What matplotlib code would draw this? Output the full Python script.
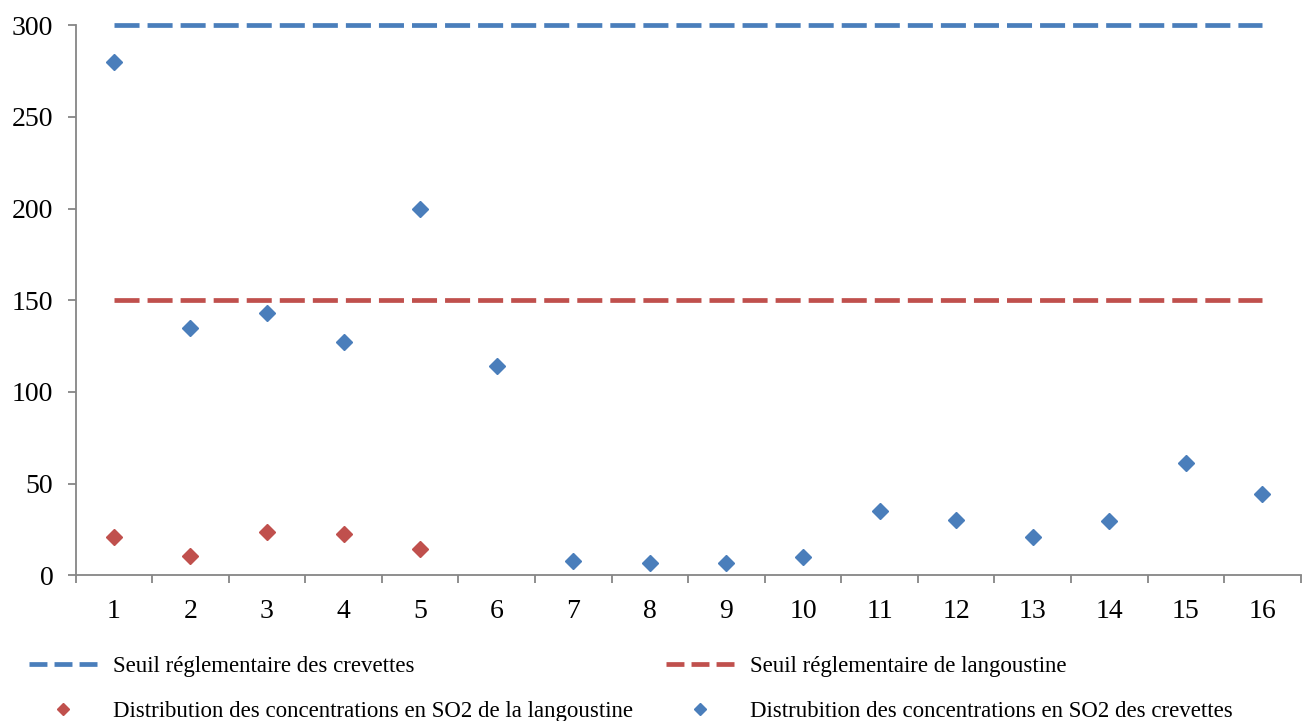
import numpy as np
import matplotlib
matplotlib.use("Agg")
import matplotlib.pyplot as plt
from matplotlib.lines import Line2D

plt.rcParams["font.family"] = ["Liberation Serif", "DejaVu Serif"]

# Data
echantillons = np.arange(1, 17)
crevettes_so2 = [280, 135, 143, 127, 200, 114, 8, 6.5, 6.5, 10, 35, 30, 21, 29.5, 61, 44.5]
langoustine_so2 = [21, 10.5, 23.5, 22.5, 14.5]
seuil_crevettes = 300
seuil_langoustine = 150

blue = "#4A7EBB"
red = "#C0504D"
grey = "#868686"

fig = plt.figure(figsize=(13.02, 7.21), dpi=100)
ax = fig.add_axes([0.058, 0.202, 0.941, 0.763])

ax.plot(echantillons, [seuil_crevettes] * len(echantillons), color=blue,
        lw=3.4, linestyle=(0, (5.3, 1.7)), clip_on=False)
ax.plot(echantillons, [seuil_langoustine] * len(echantillons), color=red,
        lw=3.4, linestyle=(0, (5.3, 1.7)))
ax.plot(echantillons[:len(langoustine_so2)], langoustine_so2, "D", color=red, ms=8.5,
        mec=red, clip_on=False)
ax.plot(echantillons, crevettes_so2, "D", color=blue, ms=8.5, mec=blue, clip_on=False)

ax.set_xlim(0.5, 16.5)
ax.set_ylim(0, 300)
ax.set_yticks(np.arange(0, 301, 50))
ax.set_xticks(echantillons)
ax.set_xticks(np.arange(0.5, 17, 1), minor=True)
ax.tick_params(axis="x", which="major", length=0, pad=17, labelsize=20)
ax.tick_params(axis="x", which="minor", length=6, width=1.3, color=grey, direction="out")
ax.tick_params(axis="y", length=6, width=1.3, color=grey, labelsize=20, pad=10)

for s in ["top", "right"]:
    ax.spines[s].set_visible(False)
for s in ["left", "bottom"]:
    ax.spines[s].set_color(grey)
    ax.spines[s].set_linewidth(1.3)

# legend handles
h1 = Line2D([], [], color=blue, lw=3.4, linestyle=(0, (3.8, 1.5)))
h2 = Line2D([], [], color=red, lw=3.4, linestyle=(0, (3.8, 1.5)))
h3 = Line2D([], [], color=red, marker="D", linestyle="none", ms=6.2)
h4 = Line2D([], [], color=blue, marker="D", linestyle="none", ms=6.2)
labels = ["Seuil réglementaire des crevettes",
          "Distribution des concentrations en SO2 de la langoustine",
          "Seuil réglementaire de langoustine",
          "Distrubition des concentrations en SO2 des crevettes"]

fig.legend(handles=[h1, h3, h2, h4], labels=labels, loc="upper left", ncol=2,
           bbox_to_anchor=(0.015, 0.103), frameon=False, fontsize=16.5,
           handlelength=3, handletextpad=0.7, columnspacing=1.4,
           labelspacing=1.06, borderaxespad=0)

fig.savefig("out.png", dpi=100)
